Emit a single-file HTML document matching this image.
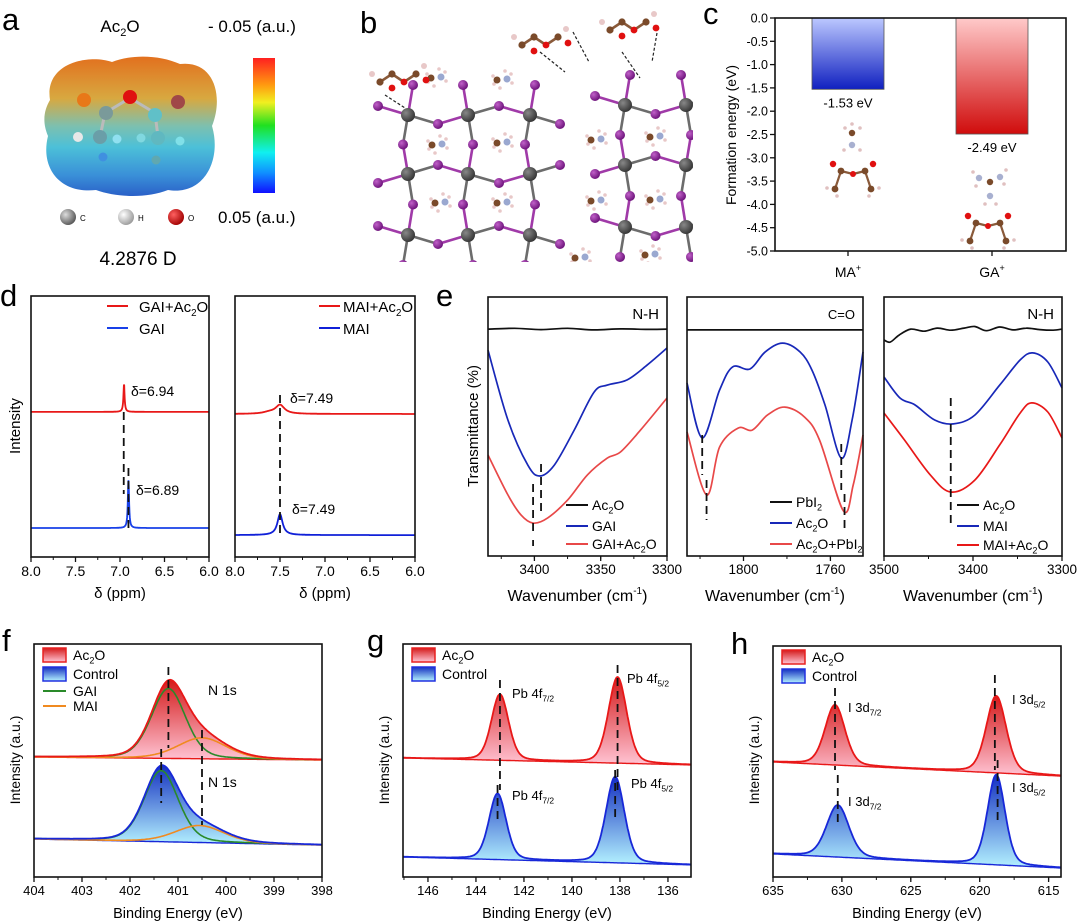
<!DOCTYPE html>
<html><head><meta charset="utf-8"><style>
html,body{margin:0;padding:0;background:#fff}
svg{display:block;font-family:"Liberation Sans",Arial,sans-serif}
</style></head><body>
<svg id="fig" width="1080" height="924" viewBox="0 0 1080 924" xmlns="http://www.w3.org/2000/svg">
<defs>
<linearGradient id="gRedFill" x1="0" y1="0" x2="0" y2="1"><stop offset="0" stop-color="#d41a1a"/><stop offset="1" stop-color="#ffc4d4"/></linearGradient>
<linearGradient id="gBlueFill" x1="0" y1="0" x2="0" y2="1"><stop offset="0" stop-color="#1430c0"/><stop offset="1" stop-color="#b4f2ff"/></linearGradient>
<linearGradient id="gBarMA" x1="0" y1="0" x2="0" y2="1"><stop offset="0" stop-color="#bcc8ff"/><stop offset="1" stop-color="#1020c0"/></linearGradient>
<linearGradient id="gBarGA" x1="0" y1="0" x2="0" y2="1"><stop offset="0" stop-color="#ffcaca"/><stop offset="1" stop-color="#d00c0c"/></linearGradient>
<linearGradient id="gCbar" x1="0" y1="0" x2="0" y2="1"><stop offset="0" stop-color="#ff2020"/><stop offset="0.2" stop-color="#ff9a10"/><stop offset="0.33" stop-color="#f0f020"/><stop offset="0.5" stop-color="#20e020"/><stop offset="0.7" stop-color="#10f0f0"/><stop offset="0.85" stop-color="#1090ff"/><stop offset="1" stop-color="#1010ff"/></linearGradient>
<linearGradient id="gEsp" x1="0" y1="0" x2="0" y2="1"><stop offset="0" stop-color="#e2701e"/><stop offset="0.3" stop-color="#d8a840"/><stop offset="0.5" stop-color="#7cc0b0"/><stop offset="0.65" stop-color="#4cc0d8"/><stop offset="0.85" stop-color="#3a90d8"/><stop offset="1" stop-color="#2a60c8"/></linearGradient>
<radialGradient id="gC" cx="0.35" cy="0.35" r="0.7"><stop offset="0" stop-color="#ddd"/><stop offset="1" stop-color="#555"/></radialGradient>
<radialGradient id="gH" cx="0.35" cy="0.35" r="0.7"><stop offset="0" stop-color="#fff"/><stop offset="1" stop-color="#999"/></radialGradient>
<radialGradient id="gO" cx="0.35" cy="0.35" r="0.7"><stop offset="0" stop-color="#ff6060"/><stop offset="1" stop-color="#a00000"/></radialGradient>
<radialGradient id="gPb" cx="0.35" cy="0.35" r="0.7"><stop offset="0" stop-color="#888"/><stop offset="1" stop-color="#333"/></radialGradient>
<radialGradient id="gI" cx="0.35" cy="0.35" r="0.7"><stop offset="0" stop-color="#c060c8"/><stop offset="1" stop-color="#6a1078"/></radialGradient>
<clipPath id="clipB"><rect x="362" y="0" width="331" height="262"/></clipPath>
</defs>

<!-- panel letters -->
<g font-size="31">
<text x="2" y="30">a</text><text x="360" y="33">b</text><text x="703" y="24">c</text>
<text x="0" y="306">d</text><text x="436" y="306">e</text>
<text x="2" y="651">f</text><text x="367" y="651">g</text><text x="731" y="654">h</text>
</g>

<!-- panel a -->
<g>
<text x="120" y="32" font-size="17" text-anchor="middle">Ac<tspan font-size="11" dy="4">2</tspan><tspan dy="-4">O</tspan></text>
<text x="208" y="32" font-size="17">- 0.05 (a.u.)</text>
<path d="M50,100 C44,62 90,54 112,62 C132,54 160,55 180,64 C214,60 224,96 212,126 C222,160 204,196 168,190 C148,198 118,198 96,190 C60,194 40,168 48,136 C42,122 44,110 50,100 Z" fill="url(#gEsp)"/>
<g>
<line x1="105" y1="113" x2="130" y2="98" stroke="#bbb" stroke-width="3"/><line x1="130" y1="98" x2="155" y2="113" stroke="#bbb" stroke-width="3"/>
<line x1="105" y1="113" x2="100" y2="137" stroke="#bbb" stroke-width="3"/><line x1="155" y1="113" x2="158" y2="137" stroke="#bbb" stroke-width="3"/>
<circle cx="84" cy="100" r="7" fill="#e87818"/><circle cx="130" cy="97" r="7" fill="#e01010"/><circle cx="178" cy="102" r="7" fill="#a04848"/>
<circle cx="106" cy="113" r="7" fill="#7a9a9a"/><circle cx="155" cy="115" r="7" fill="#60c0c8"/>
<circle cx="100" cy="137" r="7" fill="#6a9ea8"/><circle cx="158" cy="138" r="7" fill="#60b8c0"/>
<circle cx="78" cy="137" r="5" fill="#e8e8e8"/><circle cx="117" cy="139" r="4.5" fill="#90e0f0"/><circle cx="103" cy="157" r="4.5" fill="#4090e0"/>
<circle cx="141" cy="138" r="4.5" fill="#80d8e0"/><circle cx="180" cy="141" r="4.5" fill="#80e0e8"/><circle cx="156" cy="160" r="4.5" fill="#60a8b0"/>
</g>
<rect x="253" y="58" width="22" height="135" fill="url(#gCbar)"/>
<circle cx="68" cy="217" r="8" fill="url(#gC)"/><text x="80" y="221" font-size="8">C</text>
<circle cx="126" cy="217" r="8" fill="url(#gH)"/><text x="138" y="221" font-size="8">H</text>
<circle cx="176" cy="217" r="8" fill="url(#gO)"/><text x="188" y="221" font-size="8">O</text>
<text x="218" y="223" font-size="17">0.05 (a.u.)</text>
<text x="138" y="265" font-size="19" text-anchor="middle">4.2876 D</text>
</g>

<g id="panelB" clip-path="url(#clipB)"></g>
<g id="panelC"></g>
<g id="panelD"></g>
<g id="panelE"></g>
<g id="panelF"></g>
<g id="panelG"></g>
<g id="panelH"></g>
</svg>
<script>
// ---------- DATA ----------
// panel c
const barCategories = ["MA", "GA"];
const barValues = [-1.53, -2.49];
const barLabels = ["-1.53 eV", "-2.49 eV"];
const cTicks = [0, -0.5, -1, -1.5, -2, -2.5, -3, -3.5, -4, -4.5, -5];
// panel d (NMR) peaks: [center ppm, height, hwhm], offsets in intensity units
const nmrGaiAcCenter = 6.955, nmrGaiAcHeight = 10.7, nmrGaiAcWidth = 0.008, nmrGaiAcOffset = 55.6;
const nmrGaiCenter = 6.905, nmrGaiHeight = 18.8, nmrGaiWidth = 0.008, nmrGaiOffset = 11.1;
const nmrMaiAcCenter = 7.50, nmrMaiAcHeight = 3.4, nmrMaiAcWidth = 0.06, nmrMaiAcOffset = 54.8;
const nmrMaiCenter = 7.50, nmrMaiHeight = 8.0, nmrMaiWidth = 0.035, nmrMaiOffset = 8.4;
const dTicks = [8.0, 7.5, 7.0, 6.5, 6.0];
// panel e (FTIR) sampled points
const irNH1Wn = [3435, 3420, 3405, 3396, 3385, 3370, 3355, 3345, 3330, 3315, 3300];
const irNH1Gai = [79.5, 52.5, 35.1, 30.9, 35.1, 48.6, 63.3, 66.0, 68.0, 73.7, 80.3];
const irNH1WnR = [3435, 3420, 3410, 3401, 3390, 3375, 3360, 3345, 3335, 3320, 3300];
const irNH1GaiAc = [39.0, 23.6, 15.8, 12.7, 14.7, 21.6, 31.3, 37.8, 40.2, 48.6, 61.0];
const irNH1WnK = [3435, 3415, 3395, 3375, 3355, 3335, 3315, 3300];
const irNH1Ac = [87.6, 87.9, 87.4, 87.9, 87.3, 87.7, 87.5, 87.6];
const irCOWnB = [1826, 1819, 1811, 1805, 1797, 1790, 1782, 1774, 1768.5, 1762.5, 1755, 1750, 1745];
const irCOAc = [66.8, 45.6, 64.1, 73.0, 72.2, 78.8, 82.2, 78.8, 71.8, 58.3, 37.8, 52.5, 78.8];
const irCOWnR = [1826, 1817, 1811, 1802.5, 1796, 1789, 1781, 1772, 1765, 1754, 1749.5, 1745];
const irCOAcPb = [47.9, 23.6, 42.1, 49.4, 48.6, 54.4, 57.5, 53.7, 44.8, 17.4, 27.4, 46.7];
const irCOWnK = [1826, 1745];
const irCOPb = [87.3, 87.3];
const irNH2Wn = [3500, 3482, 3465, 3443, 3422, 3398, 3370, 3347, 3333, 3316, 3300];
const irNH2Mai = [69.1, 61.0, 58.3, 52.5, 51.0, 54.4, 66.0, 75.7, 78.4, 74.9, 64.9];
const irNH2WnR = [3500, 3477, 3448, 3425, 3398, 3370, 3347, 3334, 3316, 3300];
const irNH2MaiAc = [55.2, 44.8, 31.3, 24.7, 29.3, 42.9, 55.2, 59.1, 55.6, 45.6];
const irNH2WnK = [3500, 3493, 3483, 3470, 3455, 3440, 3425, 3410, 3398, 3385, 3370, 3355, 3340, 3325, 3310, 3300];
const irNH2Ac = [83.4, 82.6, 85.3, 87.6, 86.8, 88.0, 87.2, 88.0, 88.6, 87.0, 88.4, 87.3, 88.0, 87.4, 87.2, 87.6];
// panel f (XPS N 1s) components: centers, heights, widths
const fAcBase = [51.5, 50.2], fCtrlBase = [16.3, 13.7];
const fAcCenters = [401.2, 400.5], fAcHeights = [30.0, 9.0], fAcWidths = [0.42, 0.6];
const fCtrlCenters = [401.35, 400.55], fCtrlHeights = [30.5, 7.3], fCtrlWidths = [0.42, 0.6];
const fTicks = [404, 403, 402, 401, 400, 399, 398];
// panel g (Pb 4f)
const gAcBase = [51.1, 48.1], gCtrlBase = [8.6, 5.2];
const gAcCenters = [143.0, 138.1], gAcHeights = [28.3, 36.9], gAcWidths = [0.42, 0.45];
const gCtrlCenters = [143.1, 138.2], gCtrlHeights = [28.3, 36.9], gCtrlWidths = [0.42, 0.45];
const gTicks = [146, 144, 142, 140, 138, 136];
// panel h (I 3d)
const hAcBase = [49.8, 43.7], hCtrlBase = [10.0, 3.9];
const hAcCenters = [630.5, 618.8], hAcHeights = [26.0, 33.3], hAcWidths = [0.85, 0.85];
const hCtrlCenters = [630.3, 618.8], hCtrlHeights = [22.5, 39.0], hCtrlWidths = [0.95, 0.75];
const hTicks = [635, 630, 625, 620, 615];

// ---------- HELPERS ----------
const NS = "http://www.w3.org/2000/svg";
function mk(tag, parent) { const e = document.createElementNS(NS, tag); parent.appendChild(e); return e; }
function scale(d0, d1, r0, r1) { return v => r0 + (v - d0) / (d1 - d0) * (r1 - r0); }
function smooth(pts) {
  let d = "M" + pts[0][0].toFixed(1) + "," + pts[0][1].toFixed(1);
  for (let i = 0; i < pts.length - 1; i++) {
    const p0 = pts[i - 1] || pts[i], p1 = pts[i], p2 = pts[i + 1], p3 = pts[i + 2] || p2;
    const c1 = [p1[0] + (p2[0] - p0[0]) / 6, p1[1] + (p2[1] - p0[1]) / 6];
    const c2 = [p2[0] - (p3[0] - p1[0]) / 6, p2[1] - (p3[1] - p1[1]) / 6];
    d += " C" + c1[0].toFixed(1) + "," + c1[1].toFixed(1) + " " + c2[0].toFixed(1) + "," + c2[1].toFixed(1) + " " + p2[0].toFixed(1) + "," + p2[1].toFixed(1);
  }
  return d;
}
function poly(pts) { return "M" + pts.map(p => p[0].toFixed(1) + "," + p[1].toFixed(1)).join(" L"); }
function txt(parent, x, y, s, size, anchor) {
  const t = mk("text", parent);
  t.setAttribute("x", x); t.setAttribute("y", y); t.setAttribute("font-size", size);
  if (anchor) t.setAttribute("text-anchor", anchor);
  t.textContent = s; return t;
}
function subTxt(parent, x, y, base, sub, after, size, anchor) {
  const t = mk("text", parent);
  t.setAttribute("x", x); t.setAttribute("y", y); t.setAttribute("font-size", size);
  if (anchor) t.setAttribute("text-anchor", anchor);
  t.appendChild(document.createTextNode(base));
  const s = mk("tspan", t); s.setAttribute("font-size", size * 0.65); s.setAttribute("dy", size * 0.25); s.textContent = sub;
  if (after) { const a = mk("tspan", t); a.setAttribute("dy", -size * 0.25); a.textContent = after; }
  return t;
}
function frame(parent, x0, y0, x1, y1) {
  const r = mk("rect", parent);
  
  
  r.setAttribute("x", x0); r.setAttribute("y", y0); r.setAttribute("width", x1 - x0); r.setAttribute("height", y1 - y0);
  r.setAttribute("fill", "none"); r.setAttribute("stroke", "#111"); r.setAttribute("stroke-width", 1.6);
}
function xTicks(parent, sx, yb, ticks, minorStep, dom, labelY, size, fmt) {
  const g = mk("g", parent);
  
  
  const lo = Math.min(dom[0], dom[1]), hi = Math.max(dom[0], dom[1]);
  const start = Math.ceil(lo / minorStep - 1e-6) * minorStep;
  for (let v = start; v <= hi + 1e-6; v += minorStep) {
    const l = mk("line", g); const x = sx(v);
    l.setAttribute("x1", x); l.setAttribute("x2", x); l.setAttribute("y1", yb); l.setAttribute("y2", yb + 3);
    l.setAttribute("stroke", "#111"); l.setAttribute("stroke-width", 1);
  }
  ticks.forEach(v => {
    const x = sx(v);
    const l = mk("line", g);
    l.setAttribute("x1", x); l.setAttribute("x2", x); l.setAttribute("y1", yb); l.setAttribute("y2", yb + 5);
    l.setAttribute("stroke", "#111"); l.setAttribute("stroke-width", 1.3);
    const t = txt(g, x, labelY, fmt ? fmt(v) : String(v), size, "middle");
    
    
  });
}
function dashed(parent, x, y0, y1, name) {
  const l = mk("line", parent);
  
  
  l.setAttribute("x1", x); l.setAttribute("x2", x); l.setAttribute("y1", y0); l.setAttribute("y2", y1);
  l.setAttribute("stroke", "#111"); l.setAttribute("stroke-width", 1.8); l.setAttribute("stroke-dasharray", "8,5");
}
function path(parent, d, stroke, w, fill) {
  const p = mk("path", parent);
  p.setAttribute("d", d); p.setAttribute("stroke", stroke || "none"); p.setAttribute("stroke-width", w || 1.5);
  p.setAttribute("fill", fill || "none"); p.setAttribute("stroke-linejoin", "round");
  return p;
}
function legendLine(parent, x, y, color, len) {
  const l = mk("line", parent);
  l.setAttribute("x1", x); l.setAttribute("x2", x + len); l.setAttribute("y1", y); l.setAttribute("y2", y);
  l.setAttribute("stroke", color); l.setAttribute("stroke-width", 2);
}
function lor(x, c, h, w) { return h / (1 + ((x - c) / w) ** 2); }
function pv(x, c, h, w) { const g = Math.exp(-Math.LN2 * ((x - c) / w) ** 2); return h * (0.75 * g + 0.25 / (1 + ((x - c) / w) ** 2)); }
function vlabel(parent, x, y, s, size) {
  const t = txt(parent, x, y, s, size, "middle");
  t.setAttribute("transform", "rotate(-90 " + x + " " + y + ")");
  return t;
}

// ---------- PANEL B ----------
(function () {
  const G = document.getElementById("panelB");
  function atom(x, y, r, grad, name) {
    const c = mk("circle", G);
    
    
    c.setAttribute("cx", x); c.setAttribute("cy", y); c.setAttribute("r", r); c.setAttribute("fill", grad);
  }
  function bond(a, b, col) {
    const l = mk("line", G);
    l.setAttribute("x1", a[0]); l.setAttribute("y1", a[1]); l.setAttribute("x2", b[0]); l.setAttribute("y2", b[1]);
    l.setAttribute("stroke", col); l.setAttribute("stroke-width", 2.6);
  }
  function block(xs, ys) {
    const pb = [], io = [];
    ys.forEach((y, j) => xs.forEach((x, i) => pb.push([x, y, i, j])));
    const P = (i, j) => [xs[i], ys[j]];
    for (let j = 0; j < ys.length; j++) for (let i = -1; i < xs.length; i++) {
      const a = i >= 0 ? P(i, j) : [xs[0] - 60, ys[j]], b = i + 1 < xs.length ? P(i + 1, j) : [xs[xs.length - 1] + 60, ys[j]];
      const m = [(a[0] + b[0]) / 2, (a[1] + b[1]) / 2 + (((i + j) % 2 === 0) ? 9 : -9)];
      if (i >= 0) bond(a, m, "#6c6c6c"); if (i + 1 < xs.length) bond(m, b, "#a03aa8");
      io.push(m);
    }
    for (let i = 0; i < xs.length; i++) for (let j = -1; j < ys.length; j++) {
      const a = j >= 0 ? P(i, j) : [xs[i], ys[0] - 60], b = j + 1 < ys.length ? P(i, j + 1) : [xs[i], ys[ys.length - 1] + 60];
      const m = [(a[0] + b[0]) / 2 + (((i + j) % 2 === 0) ? -5 : 5), (a[1] + b[1]) / 2];
      if (j >= 0) bond(a, m, "#6c6c6c"); if (j + 1 < ys.length) bond(m, b, "#a03aa8");
      io.push(m);
    }
    io.forEach(p => atom(p[0], p[1], 5, "url(#gI)", "iodide-atom"));
    pb.forEach(p => atom(p[0], p[1], 7, "url(#gPb)", "lead-atom"));
  }
  block([408, 468, 530], [115, 174, 235]);
  block([625, 686], [105, 165, 227]);
  function ma(x, y) {
    const hs = [[-9, -4], [-8, 4], [9, -6], [10, 3], [3, -9], [-2, 8]];
    hs.forEach(h => atom(x + h[0], y + h[1], 1.8, "#e8c8c8", "h-atom"));
    atom(x - 5, y, 3.5, "#7a4a2a", "c-atom"); atom(x + 5, y - 1, 3.5, "#9aa8d0", "n-atom");
  }
  [[437, 145], [502, 143], [440, 203], [502, 203], [596, 140], [655, 137], [596, 201], [655, 200], [436, 78], [502, 80], [580, 258], [650, 255]].forEach(p => ma(p[0], p[1]));
  function ac2o(x, y, flip) {
    const pts = [[0, 0], [12, -8], [24, 0], [36, -8]];
    for (let k = 0; k < 3; k++) bond([x + pts[k][0], y + pts[k][1]], [x + pts[k + 1][0], y + pts[k + 1][1]], "#8a5a3a");
    atom(x - 8, y - 8, 3, "#e8c8c8", "h-atom"); atom(x + 44, y - 16, 3, "#e8c8c8", "h-atom");
    atom(x, y, 3.6, "#7a4a2a", "c-atom"); atom(x + 12, y - 8, 3.6, "#7a4a2a", "c-atom");
    atom(x + 24, y, 3.4, "#e01010", "o-atom"); atom(x + 36, y - 8, 3.6, "#7a4a2a", "c-atom");
    atom(x + 12, y + 6 * flip, 3.4, "#e01010", "o-atom"); atom(x + 46, y - 2, 3.4, "#e01010", "o-atom");
  }
  ac2o(380, 82, 1); ac2o(522, 45, 1); ac2o(610, 30, 1);
  [[385, 95, 405, 108], [540, 52, 565, 72], [573, 32, 589, 62], [622, 52, 640, 78], [657, 33, 652, 62]].forEach(s => {
    const l = mk("line", G);
    l.setAttribute("x1", s[0]); l.setAttribute("y1", s[1]); l.setAttribute("x2", s[2]); l.setAttribute("y2", s[3]);
    l.setAttribute("stroke", "#222"); l.setAttribute("stroke-width", 1.2); l.setAttribute("stroke-dasharray", "3,2");
  });
})();

// ---------- PANEL C ----------
(function () {
  const G = document.getElementById("panelC");
  const x0 = 775, x1 = 1066, y0 = 18, y1 = 251;
  const sy = scale(0, -5, y0, y1);
  const barX = [812, 956], barW = 72;
  barValues.forEach((v, i) => {
    const r = mk("rect", G);
    
    
    r.setAttribute("x", barX[i]); r.setAttribute("y", sy(0)); r.setAttribute("width", barW); r.setAttribute("height", sy(v) - sy(0));
    r.setAttribute("fill", i === 0 ? "url(#gBarMA)" : "url(#gBarGA)"); r.setAttribute("stroke", "#555"); r.setAttribute("stroke-width", 0.8);
    const t = txt(G, barX[i] + barW / 2, sy(v) + 18, barLabels[i], 13, "middle");
    
    
    const c = mk("text", G);
    
    
    c.setAttribute("x", barX[i] + barW / 2); c.setAttribute("y", 277); c.setAttribute("font-size", 14); c.setAttribute("text-anchor", "middle");
    c.appendChild(document.createTextNode(barCategories[i]));
    const s = mk("tspan", c); s.setAttribute("font-size", 9); s.setAttribute("dy", -6); s.textContent = "+";
    const tk = mk("line", G);
    tk.setAttribute("x1", barX[i] + barW / 2); tk.setAttribute("x2", barX[i] + barW / 2); tk.setAttribute("y1", y1); tk.setAttribute("y2", y1 + 5);
    tk.setAttribute("stroke", "#111"); tk.setAttribute("stroke-width", 1.3);
  });
  frame(G, x0, y0, x1, y1);
  cTicks.forEach(v => {
    const l = mk("line", G);
    l.setAttribute("x1", x0 - 5); l.setAttribute("x2", x0); l.setAttribute("y1", sy(v)); l.setAttribute("y2", sy(v));
    l.setAttribute("stroke", "#111"); l.setAttribute("stroke-width", 1.3);
    const t = txt(G, x0 - 7, sy(v) + 4.5, v === 0 ? "0.0" : v.toFixed(1), 12.5, "end");
    
    
  });
  const yl = vlabel(G, 736, 135, "Formation energy (eV)", 14);
  
  
  // molecule sketches
  function at(x, y, r, f) { const c = mk("circle", G); c.setAttribute("cx", x); c.setAttribute("cy", y); c.setAttribute("r", r); c.setAttribute("fill", f); }
  function bd(a, b, c) { const l = mk("line", G); l.setAttribute("x1", a[0]); l.setAttribute("y1", a[1]); l.setAttribute("x2", b[0]); l.setAttribute("y2", b[1]); l.setAttribute("stroke", c); l.setAttribute("stroke-width", 2.2); }
  function acmol(x, y) {
    bd([x - 18, y + 25], [x - 12, y + 7], "#8a5a3a"); bd([x - 12, y + 7], [x, y + 10], "#8a5a3a"); bd([x, y + 10], [x + 12, y + 7], "#8a5a3a"); bd([x + 12, y + 7], [x + 18, y + 25], "#8a5a3a");
    at(x - 20, y, 3.2, "#e01010"); at(x + 20, y, 3.2, "#e01010"); at(x, y + 10, 3, "#e01010");
    at(x - 12, y + 7, 3.4, "#7a4a2a"); at(x + 12, y + 7, 3.4, "#7a4a2a"); at(x - 18, y + 25, 3.4, "#7a4a2a"); at(x + 18, y + 25, 3.4, "#7a4a2a");
    [[-26, 24], [-16, 32], [26, 24], [16, 32]].forEach(h => at(x + h[0], y + h[1], 1.8, "#e0c0c0"));
  }
  at(852, 133, 3.2, "#7a4a2a"); at(852, 145, 3.2, "#a8b0d0"); [[845, 128], [860, 128], [852, 124], [844, 150], [860, 150]].forEach(h => at(h[0], h[1], 1.8, "#e0c0c0"));
  acmol(853, 164);
  at(990, 182, 3.2, "#7a4a2a"); at(979, 178, 3.2, "#a8b0d0"); at(1000, 177, 3.2, "#a8b0d0"); at(990, 196, 3.2, "#a8b0d0");
  [[973, 172], [976, 186], [1006, 170], [1004, 184], [985, 204], [996, 204]].forEach(h => at(h[0], h[1], 1.8, "#e0c0c0"));
  acmol(988, 216);
})();

// ---------- PANEL D ----------
(function () {
  const G = document.getElementById("panelD");
  const yb = 557, yt = 296;
  const sy = scale(0, 100, yb, yt);
  const panels = [
    { x0: 31, x1: 209, series: [[nmrGaiAcCenter, nmrGaiAcHeight, nmrGaiAcWidth, nmrGaiAcOffset, "#e81818", "nmr-gai-ac2o"], [nmrGaiCenter, nmrGaiHeight, nmrGaiWidth, nmrGaiOffset, "#1840e8", "nmr-gai"]], leg: ["GAI+Ac", "GAI"] },
    { x0: 235, x1: 415, series: [[nmrMaiAcCenter, nmrMaiAcHeight, nmrMaiAcWidth, nmrMaiAcOffset, "#e81818", "nmr-mai-ac2o"], [nmrMaiCenter, nmrMaiHeight, nmrMaiWidth, nmrMaiOffset, "#1020d8", "nmr-mai"]], leg: ["MAI+Ac", "MAI"] }
  ];
  panels.forEach((P, k) => {
    const sx = scale(8, 6, P.x0, P.x1);
    P.series.forEach(s => {
      const pts = [];
      for (let i = 0; i <= 600; i++) { const v = 8 - 2 * i / 600; pts.push([sx(v), sy(s[3] + lor(v, s[0], s[1], s[2]) + (k === 1 && s[4] === "#e81818" ? lor(v, 7.62, 0.6, 0.08) : 0))]); }
      const p = path(G, poly(pts), s[4], 1.8);
      
      
    });
    frame(G, P.x0, yt, P.x1, yb);
    xTicks(G, sx, yb, dTicks, 0.25, [8, 6], 576, 14, v => v.toFixed(1));
    const t = txt(G, (P.x0 + P.x1) / 2, 598, "δ (ppm)", 15, "middle");
    
    
    const lx = k === 0 ? 107 : 319;
    const lg = mk("g", G);
    
    
    legendLine(lg, lx, 306, "#e81818", 21); legendLine(lg, lx, 328, P.series[1][4], 21);
    subTxt(lg, lx + (k === 0 ? 32 : 24), 312, P.leg[0], "2", "O", 15);
    txt(lg, lx + (k === 0 ? 32 : 24), 334, P.leg[1], 15);
    const ppl = [];
    if (k === 0) {
      dashed(G, sx(6.958), 412, 494); dashed(G, sx(6.905), 468, 528);
      ppl.push(txt(G, 131, 396, "δ=6.94", 14)); ppl.push(txt(G, 136, 495, "δ=6.89", 14));
    } else {
      dashed(G, sx(7.50), 395, 537);
      ppl.push(txt(G, 290, 403, "δ=7.49", 14)); ppl.push(txt(G, 292, 514, "δ=7.49", 14));
    }
    ppl.forEach(t => {   });
  });
  const yl = vlabel(G, 20, 426, "Intensity", 15);
  
  
})();

// ---------- PANEL E ----------
(function () {
  const G = document.getElementById("panelE");
  const yb = 556, yt = 297;
  const sy = scale(0, 100, yb, yt);
  const panels = [
    { x0: 488, x1: 667, dom: [3435, 3300], ticks: [3400, 3350, 3300], minor: 25, label: "N-H",
      series: [[irNH1WnK, irNH1Ac, "#111", "ftir-ac2o"], [irNH1Wn, irNH1Gai, "#1828b8", "ftir-gai"], [irNH1WnR, irNH1GaiAc, "#e84848", "ftir-gai-ac2o"]],
      leg: [["Ac", "2", "O"], ["GAI", "", ""], ["GAI+Ac", "2", "O"]], lx: 566, ly: [505, 526, 544] },
    { x0: 687, x1: 863, dom: [1826, 1745], ticks: [1800, 1760], minor: 20, label: "C=O",
      series: [[irCOWnK, irCOPb, "#111", "ftir-pbi2"], [irCOWnB, irCOAc, "#1828b8", "ftir-ac2o"], [irCOWnR, irCOAcPb, "#e84848", "ftir-ac2o-pbi2"]],
      leg: [["PbI", "2", ""], ["Ac", "2", "O"], ["Ac", "2", "O+PbI"]], lx: 770, ly: [502, 523, 544] },
    { x0: 884, x1: 1062, dom: [3500, 3300], ticks: [3500, 3400, 3300], minor: 50, label: "N-H",
      series: [[irNH2WnK, irNH2Ac, "#111", "ftir-ac2o"], [irNH2Wn, irNH2Mai, "#1828b8", "ftir-mai"], [irNH2WnR, irNH2MaiAc, "#e81818", "ftir-mai-ac2o"]],
      leg: [["Ac", "2", "O"], ["MAI", "", ""], ["MAI+Ac", "2", "O"]], lx: 957, ly: [505, 526, 545] }
  ];
  panels.forEach((P, k) => {
    const sx = scale(P.dom[0], P.dom[1], P.x0, P.x1);
    P.series.forEach(s => {
      const pts = s[0].map((w, i) => [sx(w), sy(s[1][i])]);
      const p = path(G, smooth(pts), s[2], 1.7);
      
      
    });
    frame(G, P.x0, yt, P.x1, yb);
    xTicks(G, sx, yb, P.ticks, P.minor, P.dom, 574, 13.5, v => String(v));
    const t = txt(G, (P.x0 + P.x1) / 2, 601, "Wavenumber (cm", 16, "middle");
    const sup = mk("tspan", t); sup.setAttribute("font-size", 10); sup.setAttribute("dy", -7); sup.textContent = "-1";
    const cl = mk("tspan", t); cl.setAttribute("dy", 7); cl.textContent = ")";
    
    
    const lb = txt(G, P.x1 - 8, 319, P.label, P.label === "C=O" ? 13 : 15, "end");
    
    
    const lg = mk("g", G);
    
    
    P.leg.forEach((L, i) => {
      legendLine(lg, P.lx, P.ly[i], P.series[i][2], 22);
      if (L[1]) {
        const tt = subTxt(lg, P.lx + 26, P.ly[i] + 5, L[0], L[1], L[2], 14);
        if (k === 1 && i === 2) { const s2 = mk("tspan", tt); s2.setAttribute("font-size", 9); s2.setAttribute("dy", 3.5); s2.textContent = "2"; }
      } else txt(lg, P.lx + 26, P.ly[i] + 5, L[0], 14);
    });
    if (k === 0) { dashed(G, sx(3401), 484, 532); dashed(G, sx(3395), 464, 512); dashed(G, sx(3401), 540, 546); }
    if (k === 1) { dashed(G, sx(1819), 435, 475); dashed(G, sx(1817), 480, 520); dashed(G, sx(1755), 444, 490); dashed(G, sx(1753.5), 494, 530); }
    if (k === 2) { dashed(G, sx(3425), 398, 524); }
  });
  const yl = vlabel(G, 478, 426, "Transmittance (%)", 15);
  
  
})();

// ---------- PANELS F, G, H ----------
function xpsPanel(id, x0, x1, yt, dom, ticks, minor, fmt, series, extra) {
  const G = document.getElementById(id);
  const yb = 877;
  const sx = scale(dom[0], dom[1], x0, x1);
  const sy = scale(0, 100, yb, yt);
  series.forEach(S => {
    const base = v => S.base[0] + (S.base[1] - S.base[0]) * (v - dom[0]) / (dom[1] - dom[0]);
    const tot = [], bl = [];
    for (let i = 0; i <= 400; i++) {
      const v = dom[0] + (dom[1] - dom[0]) * i / 400;
      let y = base(v);
      S.c.forEach((c, j) => { y += pv(v, c, S.h[j], S.w[j]); });
      tot.push([sx(v), sy(y)]); bl.push([sx(v), sy(base(v))]);
    }
    const fillD = poly(tot) + " L" + bl.slice().reverse().map(p => p[0].toFixed(1) + "," + p[1].toFixed(1)).join(" L") + " Z";
    const f = path(G, fillD, "none", 0, S.fill);
    
    
    const b = path(G, poly(bl), S.color, 1.4);
    
    
    if (S.components) {
      S.c.forEach((c, j) => {
        const pts = [];
        for (let i = 0; i <= 400; i++) { const v = dom[0] + (dom[1] - dom[0]) * i / 400; pts.push([sx(v), sy(base(v) + pv(v, c, S.h[j], S.w[j]))]); }
        const p = path(G, poly(pts), S.components[j], 1.6);
        
        
      });
    }
    const l = path(G, poly(tot), S.color, 1.8);
    
    
  });
  frame(G, x0, yt, x1, yb);
  xTicks(G, sx, yb, ticks, minor, dom, 895, 13, fmt);
  const t = txt(G, (x0 + x1) / 2, 918, "Binding Energy (eV)", 14.5, "middle");
  
  
  const yl = vlabel(G, x0 - 14, 760, "Intensity (a.u.)", 14);
  
  
  // legend
  const lg = mk("g", G);
  
  
  const lx = x0 + 9;
  [["url(#gRedFill)", "#e82020", "Ac", "2", "O"], ["url(#gBlueFill)", "#2030e0", "Control", "", ""]].forEach((L, i) => {
    const r = mk("rect", lg);
    r.setAttribute("x", lx); r.setAttribute("y", yt + 4 + i * 19); r.setAttribute("width", 23); r.setAttribute("height", 14);
    r.setAttribute("fill", L[0]); r.setAttribute("stroke", L[1]); r.setAttribute("stroke-width", 1.5);
    if (L[3]) subTxt(lg, lx + 30, yt + 16 + i * 19, L[2], L[3], L[4], 14); else txt(lg, lx + 30, yt + 16 + i * 19, L[2], 14);
  });
  extra(G, sx, lg, lx);
  return sx;
}
xpsPanel("panelF", 34, 322, 644, [404, 398], fTicks, 0.5, v => String(v), [
  { base: fAcBase, c: fAcCenters, h: fAcHeights, w: fAcWidths, color: "#e81818", fill: "url(#gRedFill)", name: "xps-n1s-ac2o", components: ["#2a8a2a", "#f08a20"] },
  { base: fCtrlBase, c: fCtrlCenters, h: fCtrlHeights, w: fCtrlWidths, color: "#1828d8", fill: "url(#gBlueFill)", name: "xps-n1s-control", components: ["#2a8a2a", "#f08a20"] }
], (G, sx, lg, lx) => {
  legendLine(lg, lx, 691, "#2a8a2a", 23); txt(lg, lx + 30, 696, "GAI", 14);
  legendLine(lg, lx, 706, "#f08a20", 23); txt(lg, lx + 30, 711, "MAI", 14);
  dashed(G, sx(401.2), 667, 748); dashed(G, sx(401.35), 749, 803); dashed(G, sx(400.5), 730, 825);
  [txt(G, 208, 695, "N 1s", 14), txt(G, 208, 787, "N 1s", 14)].forEach(t => {   });
});
xpsPanel("panelG", 403, 691, 644, [147.04, 135.04], gTicks, 1, v => String(v), [
  { base: gAcBase, c: gAcCenters, h: gAcHeights, w: gAcWidths, color: "#e81818", fill: "url(#gRedFill)", name: "xps-pb4f-ac2o" },
  { base: gCtrlBase, c: gCtrlCenters, h: gCtrlHeights, w: gCtrlWidths, color: "#1828d8", fill: "url(#gBlueFill)", name: "xps-pb4f-control" }
], (G, sx) => {
  dashed(G, sx(143.0), 680, 790); dashed(G, sx(143.1), 785, 822);
  dashed(G, sx(138.1), 665, 790); dashed(G, sx(138.2), 770, 820);
  [[512, 698, "7/2"], [627, 683, "5/2"], [512, 800, "7/2"], [631, 788, "5/2"]].forEach(a => {
    const t = subTxt(G, a[0], a[1], "Pb 4f", a[2], "", 13);
    
    
  });
});
xpsPanel("panelH", 773, 1061, 646, [635, 614.1], hTicks, 2.5, v => String(v), [
  { base: hAcBase, c: hAcCenters, h: hAcHeights, w: hAcWidths, color: "#e81818", fill: "url(#gRedFill)", name: "xps-i3d-ac2o" },
  { base: hCtrlBase, c: hCtrlCenters, h: hCtrlHeights, w: hCtrlWidths, color: "#1828d8", fill: "url(#gBlueFill)", name: "xps-i3d-control" }
], (G, sx) => {
  dashed(G, sx(630.5), 688, 770); dashed(G, sx(630.3), 775, 823);
  dashed(G, sx(618.9), 675, 770); dashed(G, sx(618.7), 760, 820);
  [[848, 712, "7/2"], [1012, 704, "5/2"], [848, 806, "7/2"], [1012, 792, "5/2"]].forEach(a => {
    const t = subTxt(G, a[0], a[1], "I 3d", a[2], "", 13);
    
    
  });
});
</script>
</body></html>
